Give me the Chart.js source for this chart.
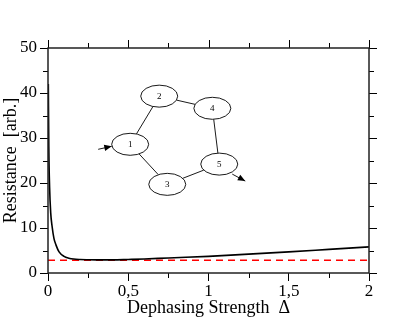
<!DOCTYPE html>
<html>
<head>
<meta charset="utf-8">
<script src="https://cdn.jsdelivr.net/npm/chart.js@4"></script>
<style>
  html, body { margin: 0; padding: 0; background: #fff; }
  #wrap { width: 415px; height: 321px; }
</style>
</head>
<body>
<div id="wrap"><canvas id="chart" width="415" height="321"></canvas></div>
<script>
// data
const dephasing = [0.002, 0.005, 0.01, 0.017, 0.025, 0.037, 0.05, 0.069, 0.1, 0.13, 0.16, 0.2, 0.25, 0.3, 0.4, 0.5, 0.6, 0.75, 1.0, 1.25, 1.5, 1.75, 2.0];
const resistance = [42, 28, 19, 13.3, 10.5, 7.7, 6.2, 4.7, 3.7, 3.3, 3.1, 3.0, 2.95, 2.92, 2.92, 3.0, 3.1, 3.35, 3.7, 4.2, 4.7, 5.25, 5.8];
const limitX = [0, 2];
const limitY = [2.85, 2.85];

// inset graph (node positions in data units)
const nodeNames = ['1', '2', '3', '4', '5'];
const nodeX = [0.512, 0.693, 0.743, 1.024, 1.067];
const nodeY = [28.6, 39.3, 19.7, 36.6, 24.2];
const edges = [[0, 1], [1, 3], [3, 4], [4, 2], [2, 0]];

const serif = '"Liberation Serif", "DejaVu Serif", serif';

function fmt(v) {
    return String(v).replace('.', ',');
}

// minor ticks + mirrored ticks on top and right
const ticksPlugin = {
    id: 'boxTicks',
    afterDraw(chart) {
        const ctx = chart.ctx;
        const a = chart.chartArea;
        const xs = chart.scales.x, ys = chart.scales.y;
        ctx.save();
        ctx.strokeStyle = '#000';
        ctx.lineWidth = 1;
        ctx.beginPath();
        for (let v = 0; v <= 2.0001; v += 0.25) {
            const px = Math.round(xs.getPixelForValue(v)) + 0.5;
            const major = Math.abs(v * 2 - Math.round(v * 2)) < 1e-6;
            const len = major ? 8 : 5;
            ctx.moveTo(px, a.top); ctx.lineTo(px, a.top - len);
            if (!major) { ctx.moveTo(px, a.bottom); ctx.lineTo(px, a.bottom + len); }
        }
        for (let v = 0; v <= 50; v += 5) {
            const py = Math.round(ys.getPixelForValue(v)) + 0.5;
            const major = v % 10 === 0;
            const len = major ? 8 : 5;
            ctx.moveTo(a.right, py); ctx.lineTo(a.right + len, py);
            if (!major) { ctx.moveTo(a.left, py); ctx.lineTo(a.left - len, py); }
        }
        ctx.stroke();
        ctx.lineWidth = 1.5;
        ctx.strokeStyle = '#222';
        ctx.strokeRect(a.left, a.top, a.right - a.left, a.bottom - a.top);
        ctx.restore();
    }
};

function arrow(ctx, x1, y1, x2, y2) {
    ctx.beginPath();
    ctx.moveTo(x1, y1);
    ctx.lineTo(x2, y2);
    ctx.stroke();
    const ang = Math.atan2(y2 - y1, x2 - x1);
    ctx.beginPath();
    ctx.moveTo(x2, y2);
    ctx.lineTo(x2 - 8 * Math.cos(ang - 0.4), y2 - 8 * Math.sin(ang - 0.4));
    ctx.lineTo(x2 - 8 * Math.cos(ang + 0.4), y2 - 8 * Math.sin(ang + 0.4));
    ctx.closePath();
    ctx.fill();
}

const insetPlugin = {
    id: 'inset',
    afterDatasetsDraw(chart) {
        const ctx = chart.ctx;
        const xs = chart.scales.x, ys = chart.scales.y;
        const rx = 18.5, ry = 11;
        const pts = nodeX.map((x, i) => [xs.getPixelForValue(x), ys.getPixelForValue(nodeY[i])]);
        ctx.save();
        ctx.strokeStyle = '#000';
        ctx.fillStyle = '#000';
        ctx.lineWidth = 0.9;
        // edges clipped at the ellipses
        edges.forEach(e => {
            const p = pts[e[0]], q = pts[e[1]];
            const dx = q[0] - p[0], dy = q[1] - p[1];
            const t = 1 / Math.sqrt((dx / rx) ** 2 + (dy / ry) ** 2);
            ctx.beginPath();
            ctx.moveTo(p[0] + dx * t, p[1] + dy * t);
            ctx.lineTo(q[0] - dx * t, q[1] - dy * t);
            ctx.stroke();
        });
        pts.forEach((p, i) => {
            ctx.beginPath();
            ctx.ellipse(p[0], p[1], rx, ry, 0, 0, Math.PI * 2);
            ctx.fillStyle = '#fff';
            ctx.fill();
            ctx.stroke();
            ctx.fillStyle = '#000';
            ctx.font = '9px ' + serif;
            ctx.textAlign = 'center';
            ctx.textBaseline = 'middle';
            ctx.fillText(nodeNames[i], p[0], p[1] + 0.5);
        });
        // in / out arrows
        const n1 = pts[0], n5 = pts[4];
        arrow(ctx, n1[0] - 32, n1[1] + 5, n1[0] - rx, n1[1] + 2);
        arrow(ctx, n5[0] + 13, n5[1] + 10, n5[0] + 26, n5[1] + 17);
        ctx.restore();
    }
};

const config = {
    type: 'line',
    data: {
        datasets: [{
            data: dephasing.map((x, i) => ({ x: x, y: resistance[i] })),
            borderColor: '#000',
            borderWidth: 1.6,
            pointRadius: 0,
            cubicInterpolationMode: 'monotone',
            fill: false
        }, {
            data: limitX.map((x, i) => ({ x: x, y: limitY[i] })),
            borderColor: '#ff0000',
            borderWidth: 1.5,
            borderDash: [7, 5],
            pointRadius: 0,
            fill: false
        }]
    },
    options: {
        responsive: false,
        animation: false,
        layout: { padding: { top: 48, right: 46, left: 0, bottom: 0 } },
        plugins: {
            legend: { display: false },
            tooltip: { enabled: false }
        },
        scales: {
            x: {
                type: 'linear',
                min: 0,
                max: 2,
                afterFit: s => { s.height = 48; },
                ticks: {
                    stepSize: 0.5,
                    color: '#000',
                    padding: 0,
                    maxRotation: 0,
                    font: { family: serif, size: 17 },
                    callback: v => fmt(v)
                },
                grid: { drawOnChartArea: false, tickLength: 8, tickColor: '#000', color: '#000' },
                border: { display: false },
                title: {
                    display: true,
                    text: 'Dephasing Strength  Δ',
                    color: '#000',
                    padding: { top: 0, bottom: 2 },
                    font: { family: serif, size: 18 }
                }
            },
            y: {
                min: 0,
                max: 50,
                afterFit: s => { s.width = 48; },
                ticks: {
                    stepSize: 10,
                    color: '#000',
                    padding: 3,
                    font: { family: serif, size: 17 }
                },
                grid: { drawOnChartArea: false, tickLength: 8, tickColor: '#000', color: '#000' },
                border: { display: false },
                title: {
                    display: true,
                    text: 'Resistance  [arb.]',
                    color: '#000',
                    padding: { top: 0, bottom: 0 },
                    font: { family: serif, size: 18 }
                }
            }
        }
    },
    plugins: [insetPlugin, ticksPlugin]
};

new Chart(document.getElementById('chart').getContext('2d'), config);
</script>
</body>
</html>
